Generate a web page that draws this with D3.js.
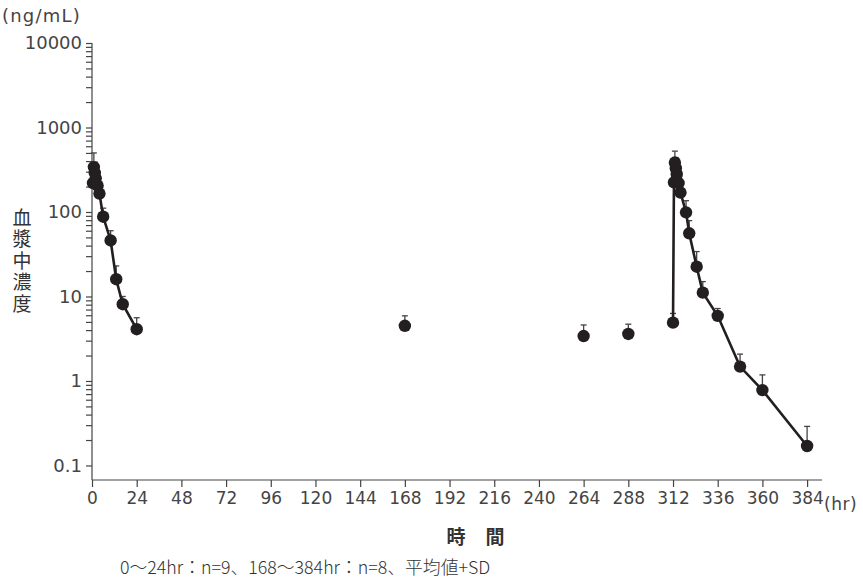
<!DOCTYPE html>
<html>
<head>
<meta charset="utf-8">
<script src="https://cdn.jsdelivr.net/npm/d3@7"></script>
<style>
  body { margin: 0; background: #fff; }
  text { font-family: "Noto Sans CJK JP", "Noto Sans", sans-serif; fill: #333; }
  .num { font-family: "DejaVu Sans", sans-serif; fill: #444; }
</style>
</head>
<body>
<div id="chart"></div>
<script>
// first dose, 0-24 hr (n=9)
var day1Hours = [0.5, 1, 1.5, 2, 3, 4, 6, 10, 13, 16.5, 24];
var day1Mean  = [220, 340, 290, 250, 205, 165, 88, 46, 16, 8.1, 4.1];
var day1SD    = [60, 160, 100, 80, 60, 40, 23, 14, 7, 1.9, 1.5];

// trough samples, not joined
var troughHours = [168, 264, 288];
var troughMean  = [4.5, 3.4, 3.6];
var troughSD    = [1.4, 1.2, 1.1];

// last dose, 312-384 hr (n=8)
var lastHours = [312, 312.5, 313, 313.5, 314, 315, 316, 319, 320.7, 324.7, 328, 336, 348, 360, 384];
var lastMean  = [4.9, 224, 385, 330, 280, 220, 170, 99, 56, 22.5, 11.1, 5.9, 1.48, 0.78, 0.17];
var lastSD    = [1.4, 60, 140, 110, 90, 60, 40, 37, 23, 11.5, 3.9, 1.3, 0.6, 0.4, 0.12];

var xTicks = [0, 24, 48, 72, 96, 120, 144, 168, 192, 216, 240, 264, 288, 312, 336, 360, 384];
var yLabels = [0.1, 1, 10, 100, 1000, 10000];

var width = 863, height = 583;

var svg = d3.select("#chart").append("svg")
	.attr("width", width)
	.attr("height", height);

var x = d3.scaleLinear().domain([0, 392]).range([92, 822]);
var y = d3.scaleLog().domain([0.0673, 10000]).range([480, 43]);

function pack(hours, mean, sd) {
	return hours.map(function(h, i) { return {t: h, v: mean[i], sd: sd[i]}; });
}
var day1 = pack(day1Hours, day1Mean, day1SD),
	trough = pack(troughHours, troughMean, troughSD),
	last = pack(lastHours, lastMean, lastSD);

/*
 * Axes
 */
var yTickVals = [];
yLabels.forEach(function(p) {
	for (var m = 1; m <= 9; m++) {
		var v = +(p * m).toPrecision(3);
		if (v <= 10000) yTickVals.push(v);
	}
});

var yAxis = svg.append("g")
	.attr("transform", "translate(" + x(0) + ",0)")
	.call(d3.axisLeft(y)
		.tickValues(yTickVals)
		.tickSize(6)
		.tickPadding(4)
		.tickFormat(function(d) { return yLabels.indexOf(d) >= 0 ? String(d) : ""; }));
yAxis.select(".domain").attr("d", "M0," + y.range()[0] + "V" + y.range()[1]);

var xAxis = svg.append("g")
	.attr("transform", "translate(0," + y.range()[0] + ")")
	.call(d3.axisBottom(x)
		.tickValues(xTicks)
		.tickSize(7)
		.tickPadding(5)
		.tickFormat(d3.format("d")));
xAxis.select(".domain").attr("d", "M" + x.range()[0] + ",0H" + x.range()[1]);

svg.selectAll(".domain, .tick line").attr("stroke", "#444").attr("stroke-width", 1.2);
svg.selectAll(".tick text")
	.attr("font-size", null)
	.attr("font-family", null)
	.attr("class", "num");
yAxis.selectAll(".tick text").style("font-size", "18px");
xAxis.selectAll(".tick text").style("font-size", "17px");

svg.append("text").attr("class", "num").attr("x", 824).attr("y", 510)
	.style("font-size", "17px").style("letter-spacing", "0.5px").text("(hr)");
svg.append("text").attr("class", "num").attr("x", 2).attr("y", 22)
	.style("font-size", "18px").style("letter-spacing", "1.2px").text("(ng/mL)");

// vertical y title
svg.append("text")
	.attr("x", 22)
	.attr("y", 208)
	.style("writing-mode", "vertical-rl")
	.style("font-size", "19px")
	.style("letter-spacing", "2.5px")
	.text("血漿中濃度");

svg.append("g").selectAll("text")
	.data("時間".split(""))
	.enter().append("text")
	.attr("x", function(d, i) { return 456 + i * 39; })
	.attr("y", 544)
	.attr("text-anchor", "middle")
	.style("font-size", "19px")
	.style("font-weight", "bold")
	.text(function(d) { return d; });

svg.append("text")
	.attr("x", 120).attr("y", 574)
	.style("font-size", "17.8px")
	.style("font-weight", "300")
	.text("0〜24hr：n=9、168〜384hr：n=8、平均値+SD");

/*
 * Data
 */
var line = d3.line()
	.x(function(d) { return x(d.t); })
	.y(function(d) { return y(d.v); });

var all = day1.concat(trough, last);

var bars = svg.append("g").attr("class", "errbars");
bars.selectAll("line.sd")
	.data(all)
	.enter().append("line")
	.attr("x1", function(d) { return x(d.t); })
	.attr("x2", function(d) { return x(d.t); })
	.attr("y1", function(d) { return y(d.v); })
	.attr("y2", function(d) { return y(d.v + d.sd); })
	.attr("stroke", "#444").attr("stroke-width", 1.3);
bars.selectAll("line.cap")
	.data(all)
	.enter().append("line")
	.attr("x1", function(d) { return x(d.t) - 3; })
	.attr("x2", function(d) { return x(d.t) + 3; })
	.attr("y1", function(d) { return y(d.v + d.sd); })
	.attr("y2", function(d) { return y(d.v + d.sd); })
	.attr("stroke", "#444").attr("stroke-width", 1.3);

[day1, last].forEach(function(s) {
	svg.append("path")
		.datum(s)
		.attr("d", line)
		.attr("fill", "none")
		.attr("stroke", "#231f20")
		.attr("stroke-width", 2.6);
});

svg.append("g").selectAll("circle")
	.data(all)
	.enter().append("circle")
	.attr("cx", function(d) { return x(d.t); })
	.attr("cy", function(d) { return y(d.v); })
	.attr("r", 6.2)
	.attr("fill", "#231f20");
</script>
</body>
</html>
